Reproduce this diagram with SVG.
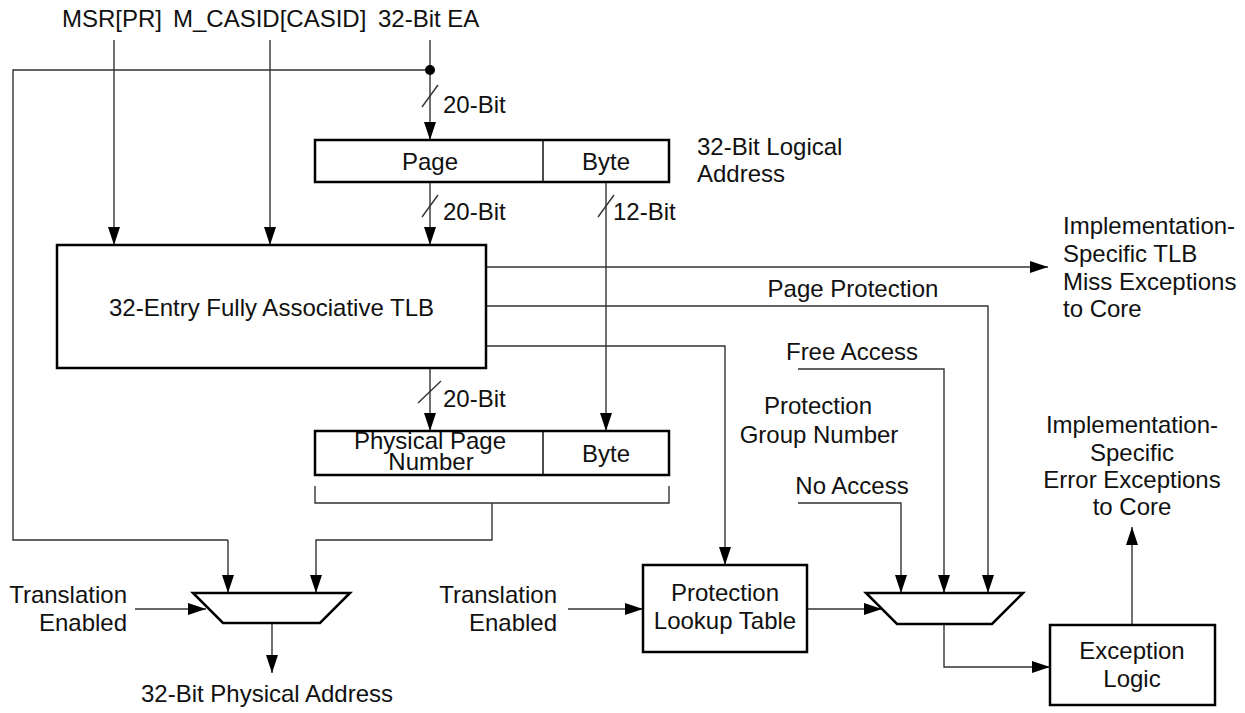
<svg xmlns="http://www.w3.org/2000/svg" width="1245" height="713" viewBox="0 0 1245 713">
<style>
text{font-family:"Liberation Sans",Arial,sans-serif;font-size:24px;fill:#111}
.m{text-anchor:middle}
.e{text-anchor:end}
.box{fill:#fff;stroke:#000;stroke-width:2.5}
.c{fill:none;stroke:#333;stroke-width:1.4}
.a{marker-end:url(#ah)}
</style>
<defs>
<marker id="ah" markerUnits="userSpaceOnUse" markerWidth="18" markerHeight="12" refX="18" refY="6" orient="auto">
<path d="M0,0 L18,6 L0,12 z" fill="#000"/>
</marker>
</defs>
<rect width="1245" height="713" fill="#fff"/>

<g id="labels">
<text x="62" y="27">MSR[PR]</text>
<text x="173" y="27">M_CASID[CASID]</text>
<text x="378" y="27">32-Bit EA</text>
<text x="697" y="155">32-Bit Logical</text>
<text x="697" y="182">Address</text>
<text x="1063" y="234">Implementation-</text>
<text x="1063" y="262">Specific TLB</text>
<text x="1063" y="290">Miss Exceptions</text>
<text x="1063" y="317">to Core</text>
<text x="853" y="297" class="m">Page Protection</text>
<text x="852" y="360" class="m">Free Access</text>
<text x="818" y="414" class="m">Protection</text>
<text x="819" y="443" class="m">Group Number</text>
<text x="852" y="494" class="m">No Access</text>
<text x="1132" y="433" class="m">Implementation-</text>
<text x="1132" y="461" class="m">Specific</text>
<text x="1132" y="488" class="m">Error Exceptions</text>
<text x="1132" y="515" class="m">to Core</text>
<text x="127" y="603" class="e">Translation</text>
<text x="127" y="631" class="e">Enabled</text>
<text x="557" y="603" class="e">Translation</text>
<text x="557" y="631" class="e">Enabled</text>
<text x="267" y="702" class="m">32-Bit Physical Address</text>
<text x="443" y="113">20-Bit</text>
<text x="443" y="220">20-Bit</text>
<text x="613" y="220">12-Bit</text>
<text x="443" y="407">20-Bit</text>
</g>

<g id="connectors">
<path class="c a" d="M430,40 V140"/>
<path class="c" d="M430,70 H13 V540 H228"/>
<path class="c a" d="M228,540 V593"/>
<circle cx="430" cy="70" r="5" fill="#000"/>
<path class="c a" d="M114,40 V245"/>
<path class="c a" d="M270,40 V245"/>
<path class="c a" d="M430,182 V245"/>
<path class="c a" d="M606,182 V431"/>
<path class="c a" d="M430,368 V431"/>
<path class="c" d="M315,486 V503 H669 V486"/>
<path class="c a" d="M492,503 V540 H316 V593"/>
<path class="c a" d="M272,623 V673"/>
<path class="c a" d="M135,609 H206"/>
<path class="c a" d="M486,267 H1048"/>
<path class="c a" d="M486,306 H988 V593"/>
<path class="c a" d="M486,346 H725 V565"/>
<path class="c a" d="M798,369 H944 V593"/>
<path class="c a" d="M798,503 H901 V593"/>
<path class="c a" d="M568,609 H643"/>
<path class="c a" d="M807,609 H882"/>
<path class="c a" d="M944,624 V667 H1050"/>
<path class="c a" d="M1132,625 V527"/>
<path class="c" d="M422,107 L438,85"/>
<path class="c" d="M422,217 L438,195"/>
<path class="c" d="M598,217 L614,195"/>
<path class="c" d="M418,403 L441,381"/>
</g>

<g id="logical-address">
<rect class="box" x="315" y="140" width="354" height="42"/>
<line x1="543" y1="140" x2="543" y2="182" stroke="#000" stroke-width="1.4"/>
<text x="430" y="170" class="m">Page</text>
<text x="606" y="170" class="m">Byte</text>
</g>

<g id="tlb">
<rect class="box" x="57" y="245" width="429" height="123"/>
<text x="271.5" y="316" class="m">32-Entry Fully Associative TLB</text>
</g>

<g id="physical-address">
<rect class="box" x="315" y="431" width="354" height="44"/>
<line x1="543" y1="431" x2="543" y2="475" stroke="#000" stroke-width="1.4"/>
<text x="430" y="449" class="m">Physical Page</text>
<text x="431" y="470" class="m">Number</text>
<text x="606" y="462" class="m">Byte</text>
</g>

<g id="mux-left">
<polygon class="box" points="193,593 350,593 320,623 223,623"/>
</g>

<g id="protection-lookup">
<rect class="box" x="643" y="565" width="164" height="87"/>
<text x="725" y="601" class="m">Protection</text>
<text x="725" y="629" class="m">Lookup Table</text>
</g>

<g id="mux-right">
<polygon class="box" points="866,593 1023,593 992,624 897,624"/>
</g>

<g id="exception-logic">
<rect class="box" x="1050" y="625" width="165" height="80"/>
<text x="1132" y="659" class="m">Exception</text>
<text x="1132" y="687" class="m">Logic</text>
</g>
</svg>
